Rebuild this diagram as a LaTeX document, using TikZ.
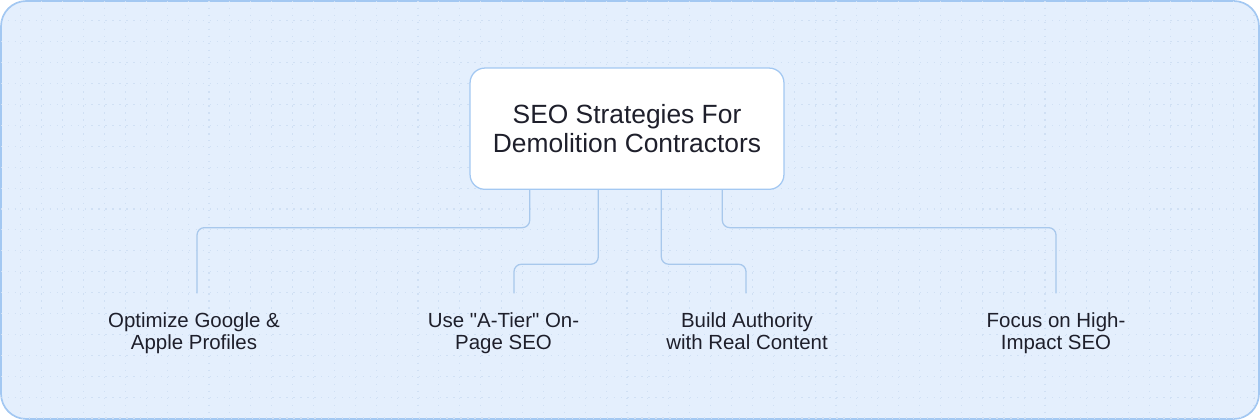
\documentclass[tikz,border=0pt]{standalone}
\usepackage{fontspec}
\newfontfamily\labelfont{Liberation Sans}
\usetikzlibrary{calc}
\definecolor{bgblue}{HTML}{E4EFFD}
\definecolor{rimblue}{HTML}{A3C8F2}
\definecolor{lineblue}{HTML}{A8C8EC}
\definecolor{dotblue}{HTML}{D0E0F4}
\definecolor{inkdark}{HTML}{1E1F2B}
\tikzstyle{frame}=[draw=rimblue,fill=bgblue,line width=0.8pt,rounded corners=12pt]
\tikzstyle{gridline}=[draw=dotblue,line width=0.5pt,dash pattern=on 0.6pt off 2.7pt]
\tikzstyle{rootbox}=[rectangle,draw=rimblue,fill=white,line width=0.6pt,rounded corners=7pt,minimum width=5.23cm,minimum height=2.02cm,align=center,text=inkdark,font=\labelfont\fontsize{12.5}{14}\selectfont]
\tikzstyle{leaf}=[align=center,anchor=north,inner ysep=9pt,text=inkdark,font=\labelfont\fontsize{9.7}{10.3}\selectfont]
\tikzstyle{conn}=[draw=lineblue,line width=0.6pt,rounded corners=3.5pt]

\begin{document}
\begin{tikzpicture}[x=0.016667cm,y=-0.016667cm]
    % Canvas of 1260 x 420 px, y grows downwards
    \useasboundingbox (0,0) rectangle (1260,420);
    \path[frame] (1,1) rectangle (1259,419);

    % Dotted background grid
    \begin{scope}
        \clip[rounded corners=12pt] (1,1) rectangle (1259,419);
        \foreach \gx in {20.9,41.8,...,1260}
            \draw[gridline] (\gx,1) -- (\gx,419);
        \foreach \gy in {20.9,41.8,...,420}
            \draw[gridline] (1,\gy) -- (1259,\gy);
    \end{scope}

    % The central topic
    \node[rootbox] (root) at (627,128.7) {SEO Strategies For\\Demolition Contractors};

    % The four strategies
    \foreach \pos/\name/\label in {{(194,293.3)/opt/Optimize Google \&\\Apple Profiles}, {(503.5,293.3)/tier/Use "A-Tier" On-\\Page SEO}, {(747,293.3)/auth/Build Authority\\with Real Content}, {(1056,293.3)/impact/Focus on High-\\Impact SEO}}
        \node[leaf] (\name) at \pos {\label};

    % Connect the topic with the strategies
    \foreach \dx/\drop/\name/\off in {-97.3/37.7/opt/3, -28.7/74.3/tier/10.5, 34.3/74.3/auth/-1, 95.3/37.7/impact/0}
        \draw[conn] ($(root.south)+(\dx,0)$) -- ++(0,\drop) -| ($(\name.north)+(\off,0)$);
\end{tikzpicture}
\end{document}
